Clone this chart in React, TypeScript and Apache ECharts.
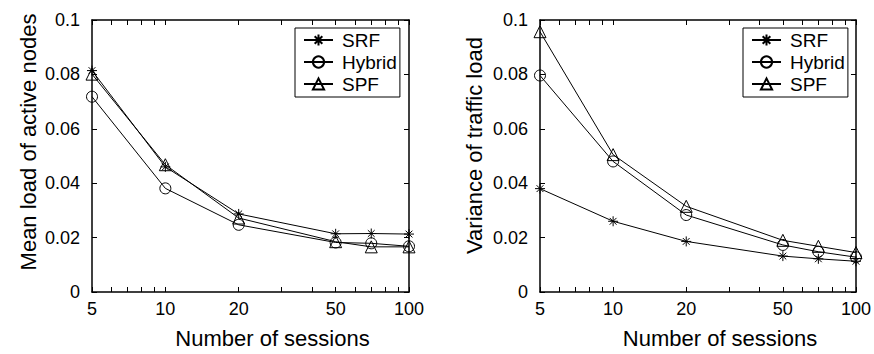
import React, { useEffect, useRef } from "react";
import * as echarts from "echarts";

const sessions = [5, 10, 20, 50, 70, 100];
const xLabelTicks = [5, 10, 20, 50, 100];
const xMinorTicks = [5, 6, 7, 8, 9, 10, 20, 30, 40, 50, 60, 70, 80, 90, 100];

const meanSRF = [0.0814, 0.046, 0.0287, 0.0214, 0.0215, 0.0213];
const meanHybrid = [0.0718, 0.0381, 0.0247, 0.0182, 0.0179, 0.0168];
const meanSPF = [0.0801, 0.0468, 0.0272, 0.0185, 0.0166, 0.0166];

const varSRF = [0.038, 0.026, 0.0186, 0.0132, 0.0122, 0.0113];
const varHybrid = [0.0796, 0.048, 0.0283, 0.0173, 0.0148, 0.0128];
const varSPF = [0.0957, 0.0505, 0.0315, 0.019, 0.0168, 0.0145];

const seriesNames = ["SRF", "Hybrid", "SPF"];
const leftTitle = "Mean load of active nodes";
const rightTitle = "Variance of traffic load";
const xTitle = "Number of sessions";

const FONT = "Liberation Sans, Arial, Helvetica, sans-serif";
const STAR = "path://M5,0L5,10M0,5L10,5M1.6,1.6L8.4,8.4M1.6,8.4L8.4,1.6";

const symbols: Record<string, string> = {
  SRF: STAR,
  Hybrid: "circle",
  SPF: "triangle",
};
const symbolSizes: Record<string, number> = { SRF: 10, Hybrid: 11, SPF: 12 };

function makeSeries(name: string, vals: number[], idx: number) {
  return {
    name,
    type: "line",
    xAxisIndex: idx * 2,
    yAxisIndex: idx * 2,
    data: sessions.map((s, i) => [s, vals[i]]),
    symbol: symbols[name],
    symbolSize: symbolSizes[name],
    showAllSymbol: true,
    lineStyle: { color: "#000", width: 1 },
    itemStyle: { color: "rgba(255,255,255,0)", borderColor: "#000", borderWidth: 1 },
    emphasis: { disabled: true },
    z: 3,
  };
}

function xAxes(gridIndex: number) {
  const base = {
    type: "log",
    logBase: 10,
    min: 5,
    max: 100,
    gridIndex,
    axisLine: { show: true, onZero: false, lineStyle: { color: "#000", width: 1.5 } },
    axisTick: {
      show: true,
      inside: true,
      length: 5,
      customValues: xMinorTicks,
      lineStyle: { color: "#000" },
    },
    splitLine: { show: false },
    minorTick: { show: false },
  };
  return [
    {
      ...base,
      position: "bottom",
      name: xTitle,
      nameLocation: "middle",
      nameGap: 35,
      nameTextStyle: { fontFamily: FONT, fontSize: 22, color: "#000", padding: [0, 0, 0, 44] },
      axisLabel: {
        show: true,
        customValues: xLabelTicks,
        fontFamily: FONT,
        fontSize: 18,
        color: "#000",
        margin: 8,
      },
    },
    {
      ...base,
      position: "top",
      axisLabel: { show: false },
    },
  ];
}

function yAxes(gridIndex: number, title: string, gap: number, shift: number) {
  const base = {
    type: "value",
    min: 0,
    max: 0.1,
    interval: 0.02,
    gridIndex,
    axisLine: { show: true, onZero: false, lineStyle: { color: "#000", width: 1.5 } },
    axisTick: { show: true, inside: true, length: 5, lineStyle: { color: "#000" } },
    splitLine: { show: false },
  };
  return [
    {
      ...base,
      position: "left",
      name: title,
      nameLocation: "middle",
      nameGap: gap,
      nameTextStyle: { fontFamily: FONT, fontSize: 22, color: "#000", padding: [0, 0, 0, shift] },
      axisLabel: { fontFamily: FONT, fontSize: 18, color: "#000", margin: 12 },
    },
    {
      ...base,
      position: "right",
      axisLabel: { show: false },
    },
  ];
}

function legend(left: number) {
  return {
    data: seriesNames,
    orient: "vertical",
    left,
    top: 28,
    padding: [2, 3, 3, 8],
    itemGap: 2,
    itemWidth: 29,
    itemHeight: 14,
    borderColor: "#000",
    borderWidth: 1,
    backgroundColor: "#fff",
    selectedMode: false,
    textStyle: { fontFamily: FONT, fontSize: 19, lineHeight: 20, color: "#000", padding: [0, 0, 0, 4] },
  };
}

export default function App() {
  const ref = useRef<HTMLDivElement>(null);
  useEffect(() => {
    if (!ref.current) return;
    const chart = echarts.init(ref.current, undefined, { renderer: "svg" });
    const xa0 = xAxes(0);
    const xa1 = xAxes(1);
    const ya0 = yAxes(0, leftTitle, 53, 28);
    const ya1 = yAxes(1, rightTitle, 55, 21);
    chart.setOption({
      animation: false,
      backgroundColor: "#fff",
      grid: [
        { left: 92, right: 465, top: 20, bottom: 55, show: false },
        { left: 540, right: 17, top: 20, bottom: 55, show: false },
      ],
      xAxis: [xa0[0], xa0[1], xa1[0], xa1[1]],
      yAxis: [ya0[0], ya0[1], ya1[0], ya1[1]],
      legend: [legend(295), legend(743)],
      series: [
        makeSeries("SRF", meanSRF, 0),
        makeSeries("Hybrid", meanHybrid, 0),
        makeSeries("SPF", meanSPF, 0),
        makeSeries("SRF", varSRF, 1),
        makeSeries("Hybrid", varHybrid, 1),
        makeSeries("SPF", varSPF, 1),
      ],
    });
    return () => chart.dispose();
  }, []);
  return (
    <div
      ref={ref}
      style={{ position: "fixed", left: 0, top: 0, width: 874, height: 354 }}
    />
  );
}
